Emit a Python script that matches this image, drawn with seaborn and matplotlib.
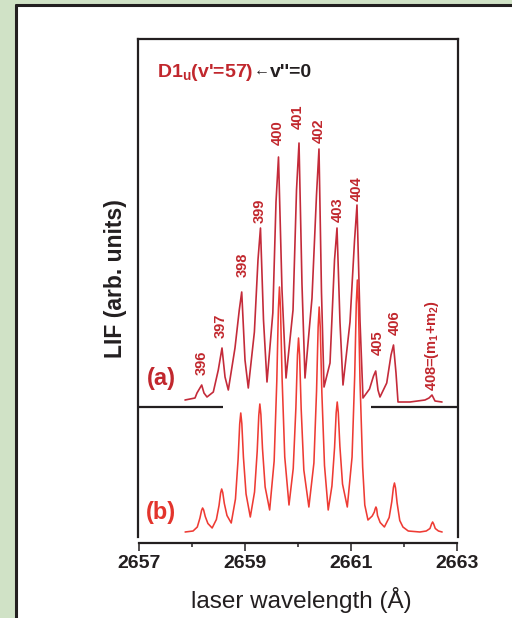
import matplotlib
matplotlib.use("Agg")
import matplotlib.pyplot as plt
import seaborn as sns
from matplotlib.lines import Line2D
from matplotlib.patches import Rectangle

# trace (a): observed LIF spectrum (wavelength in Angstrom, intensity arb.)
wl_a = [2657.868, 2658.057, 2658.094, 2658.183, 2658.226, 2658.283, 2658.402, 2658.496,
        2658.566, 2658.623, 2658.685, 2658.811, 2658.892, 2658.938, 2659.000, 2659.062,
        2659.177, 2659.245, 2659.292, 2659.349, 2659.415, 2659.525, 2659.585, 2659.632,
        2659.698, 2659.774, 2659.906, 2659.972, 2660.019, 2660.075, 2660.132, 2660.264,
        2660.349, 2660.396, 2660.443, 2660.491, 2660.604, 2660.689, 2660.736, 2660.792,
        2660.849, 2660.981, 2661.066, 2661.113, 2661.170, 2661.226, 2661.349, 2661.425,
        2661.466, 2661.509, 2661.547, 2661.674, 2661.755, 2661.802, 2661.849, 2661.887,
        2662.113, 2662.396, 2662.472, 2662.528, 2662.585, 2662.717]
lif_a = [13.7, 13.9, 14.4, 15.2, 14.4, 14.0, 14.5, 16.7,
         18.9, 16.0, 14.7, 18.9, 22.7, 24.5, 17.7, 14.9,
         20.5, 27.7, 30.9, 21.7, 15.5, 22.4, 33.5, 38.0,
         24.7, 15.9, 22.7, 34.7, 39.4, 25.3, 15.9, 23.9,
         34.2, 38.8, 24.5, 15.0, 17.4, 27.7, 30.9, 21.5,
         15.2, 21.5, 29.6, 33.2, 21.6, 13.9, 14.8, 16.1,
         16.6, 14.7, 14.0, 15.4, 18.2, 19.2, 16.4, 13.5,
         13.5, 13.7, 13.9, 14.2, 13.6, 13.5]

# trace (b): simulated spectrum
wl_b = [2657.87, 2658.02, 2658.10, 2658.15, 2658.18, 2658.20, 2658.22, 2658.25, 2658.30,
        2658.38, 2658.46, 2658.51, 2658.54, 2658.56, 2658.58, 2658.61, 2658.66,
        2658.74, 2658.82, 2658.87, 2658.90, 2658.92, 2658.94, 2658.97, 2659.02,
        2659.10, 2659.18, 2659.23, 2659.26, 2659.28, 2659.30, 2659.33, 2659.38,
        2659.465, 2659.55, 2659.60, 2659.63, 2659.65, 2659.67, 2659.70, 2659.75,
        2659.83, 2659.91, 2659.96, 2659.99, 2660.01, 2660.03, 2660.06, 2660.11,
        2660.205, 2660.30, 2660.35, 2660.38, 2660.40, 2660.42, 2660.45, 2660.50,
        2660.57, 2660.64, 2660.69, 2660.72, 2660.74, 2660.76, 2660.79, 2660.84,
        2660.93, 2661.02, 2661.07, 2661.10, 2661.12, 2661.14, 2661.17, 2661.22, 2661.26,
        2661.32, 2661.40, 2661.44, 2661.455, 2661.47, 2661.485, 2661.50, 2661.55,
        2661.63, 2661.72, 2661.77, 2661.80, 2661.82, 2661.84, 2661.87, 2661.92, 2661.98,
        2662.08, 2662.30, 2662.42, 2662.49, 2662.52, 2662.54, 2662.56, 2662.59, 2662.65,
        2662.72]
lif_b = [0.5, 0.6, 1.0, 1.9, 2.65, 2.9, 2.7, 2.05, 1.35,
         0.9, 1.75, 3.15, 4.4, 4.8, 4.45, 3.35, 2.15,
         1.4, 3.8, 7.8, 11.3, 12.4, 11.35, 8.0, 4.3,
         2.0, 4.5, 8.55, 12.15, 13.3, 12.25, 8.85, 5.0,
         2.7, 7.6, 15.6, 22.8, 25.0, 22.8, 15.85, 8.0,
         3.2, 6.85, 12.9, 18.2, 19.9, 18.2, 12.8, 6.7,
         3.0, 7.4, 14.6, 21.0, 23.0, 20.95, 14.45, 7.15,
         2.7, 5.1, 8.95, 12.4, 13.5, 12.45, 9.1, 5.3,
         3.0, 8.0, 16.15, 23.4, 25.7, 23.3, 15.6, 7.0, 3.2,
         1.7, 2.1, 2.5, 2.8, 3.0, 2.8, 2.15, 1.45,
         1.0, 1.95, 3.55, 4.95, 5.4, 4.9, 3.4, 1.65, 1.0,
         0.6, 0.5, 0.6, 0.85, 1.3, 1.5, 1.3, 0.85, 0.6,
         0.5]

# rotational line assignments
peak_labels = ["396", "397", "398", "399", "400", "401", "402", "403", "404",
               "405", "406", "408=(m$_1$+m$_2$)"]
peak_wl = [2658.18, 2658.55, 2658.96, 2659.28, 2659.62, 2660.00, 2660.40, 2660.75,
           2661.11, 2661.50, 2661.83, 2662.52]
label_y = [16.2, 19.9, 26.0, 31.4, 39.2, 40.8, 39.4, 31.5, 33.6, 18.2, 20.2, 14.6]

x_major = [2657, 2659, 2661, 2663]
x_minor = [2658, 2660, 2662]

# broken baseline under trace (a)
sep_left_x = [2656.96, 2658.585]
sep_right_x = [2661.377, 2663.04]
sep_y = [13.0, 13.0]

red_a = "#c42b3a"
red_b = "#ee3b34"
label_red = "#c1272d"
ink = "#231f20"

sns.set_theme(style="white")
plt.rcParams["font.family"] = ["Liberation Sans", "DejaVu Sans"]
plt.rcParams["mathtext.fontset"] = "custom"
plt.rcParams["mathtext.rm"] = "Liberation Sans:bold"
plt.rcParams["mathtext.bf"] = "Liberation Sans:bold"
plt.rcParams["mathtext.default"] = "bf"

fig = plt.figure(figsize=(5.12, 6.18), dpi=100)
fig.patch.set_facecolor("#d0e2c6")
fig.patches.append(Rectangle((16.5 / 512, 0), 1, 1 - 6.5 / 618, transform=fig.transFigure,
                             facecolor="white", edgecolor="none", zorder=-2))
fig.add_artist(Line2D([15.7 / 512, 15.7 / 512], [0, 1 - 5 / 618], color=ink, lw=2.2))
fig.add_artist(Line2D([15.7 / 512, 1], [1 - 5 / 618, 1 - 5 / 618], color=ink, lw=2.2))

ax = fig.add_axes([138 / 512, 81 / 618, 320 / 512, 498 / 618])
ax.set_facecolor("none")

sns.lineplot(x=wl_a, y=lif_a, ax=ax, color=red_a, linewidth=1.2, estimator=None, sort=False)
sns.lineplot(x=wl_b, y=lif_b, ax=ax, color=red_b, linewidth=1.15, estimator=None, sort=False)

ax.plot(sep_left_x, sep_y, color=ink, lw=1.6, clip_on=False, solid_capstyle="butt")
ax.plot(sep_right_x, sep_y, color=ink, lw=1.6, clip_on=False, solid_capstyle="butt")

for lab, xw, yl in zip(peak_labels, peak_wl, label_y):
    ax.text(xw, yl, lab, rotation=90, ha="center", va="bottom", fontsize=10.5,
            fontweight="bold", color=label_red)

ax.text(2657.42, 15.8, "(a)", fontsize=17, fontweight="bold", color=label_red,
        ha="center", va="center")
ax.text(2657.42, 2.5, "(b)", fontsize=17, fontweight="bold", color="#e3342c",
        ha="center", va="center")

for side in ["left", "right", "top", "bottom"]:
    ax.spines[side].set_visible(True)
    ax.spines[side].set_color(ink)
    ax.spines[side].set_linewidth(1.6)
ax.spines["bottom"].set_position(("outward", 4))
ax.spines["bottom"].set_bounds(2657, 2663)

ax.set_xlim(2657 - 1 / 53, 2663 + 1 / 53)
ax.set_ylim(0, 49.8)
ax.set_yticks([])
ax.set_xticks(x_major)
ax.set_xticks(x_minor, minor=True)
ax.tick_params(axis="x", which="major", direction="out", length=5.8, width=1.1,
               pad=3.5, labelsize=14, color=ink, labelcolor=ink, bottom=True)
ax.tick_params(axis="x", which="minor", direction="out", length=3, width=1.1,
               color=ink, bottom=True)
ax.set_xticklabels([str(v) for v in x_major], fontweight="bold", fontsize=14, color=ink)

ax.set_xlabel("laser wavelength (Å)", fontsize=17.5, color=ink)
ax.xaxis.set_label_coords(0.509, -0.100)
ax.set_ylabel("LIF (arb. units)", fontsize=16.5, fontweight="bold", color=ink)
ax.yaxis.set_label_coords(-0.034, 0.518)

# title: red upper state, black arrow and lower state
t1 = ax.text(2657.34, 46.0, "D1$_u$(v'=57)", fontsize=14, fontweight="bold",
             color=label_red, va="baseline", ha="left")
fig.canvas.draw()
inv = ax.transData.inverted()
x_end = inv.transform((t1.get_window_extent().x1, 0))[0]
t2 = ax.text(x_end + 0.01, 46.2, "←", fontsize=11.5, color=ink, va="baseline", ha="left",
             family=["Liberation Sans", "DejaVu Sans"])
fig.canvas.draw()
x_end = inv.transform((t2.get_window_extent().x1, 0))[0]
ax.text(x_end, 46.0, "v''=0", fontsize=14, fontweight="bold", color=ink,
        va="baseline", ha="left")

fig.savefig("out.png", dpi=100, facecolor=fig.get_facecolor())
